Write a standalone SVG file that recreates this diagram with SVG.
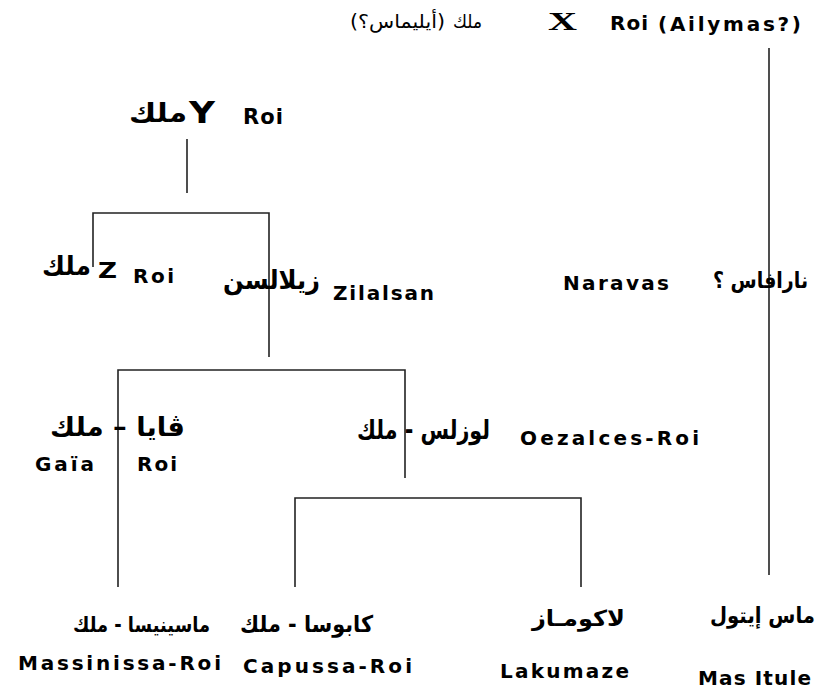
<svg xmlns="http://www.w3.org/2000/svg" width="826" height="693" viewBox="0 0 826 693">
<style>
.lat{font-family:"DejaVu Sans","Liberation Sans",sans-serif;font-weight:bold;font-size:20px;fill:#000}
.ar{font-family:"DejaVu Sans",sans-serif;font-weight:bold;font-size:26px;fill:#000}
.ars{font-family:"DejaVu Sans",sans-serif;font-weight:bold;font-size:22px;fill:#000}
.arn{font-family:"DejaVu Sans",sans-serif;font-weight:normal;font-size:19px;fill:#000}
.ser{font-family:"Liberation Serif","Times New Roman",serif;font-weight:bold;font-size:25px;fill:#000}
.link{stroke:#222;stroke-width:1.6;fill:none}
</style>
<rect width="826" height="693" fill="#fff"/>
<g id="connectors">
<path class="link" d="M187 139V193"/>
<path class="link" d="M93 267V213H269V357"/>
<path class="link" d="M118 587V370H405V478"/>
<path class="link" d="M295 587V498H581V587"/>
<path class="link" d="M769 48V575"/>
</g>
<g id="node-x">
<text class="arn" x="350" y="28" textLength="95" lengthAdjust="spacingAndGlyphs">(أيليماس؟)</text>
<text class="arn" x="453" y="28" textLength="29" lengthAdjust="spacingAndGlyphs">ملك</text>
<text class="ser" x="548" y="30" textLength="29" lengthAdjust="spacingAndGlyphs">X</text>
<text class="lat" x="610" y="30" textLength="38" lengthAdjust="spacing">Roi</text>
<text class="lat" x="801" y="31" text-anchor="end" textLength="143" lengthAdjust="spacing">(Ailymas?)</text>
</g>
<g id="node-y">
<text class="ar" x="129" y="122" textLength="58" lengthAdjust="spacingAndGlyphs">ملك</text>
<text class="lat" x="189" y="123" style="font-size:30px" textLength="26" lengthAdjust="spacingAndGlyphs">Y</text>
<text class="lat" x="243" y="124" style="font-size:21px" textLength="40" lengthAdjust="spacing">Roi</text>
</g>
<g id="node-z">
<text class="ar" x="42" y="275" textLength="49" lengthAdjust="spacingAndGlyphs">ملك</text>
<text class="lat" x="98" y="278" style="font-size:22px" textLength="19" lengthAdjust="spacingAndGlyphs">Z</text>
<text class="lat" x="133" y="283" textLength="41" lengthAdjust="spacing">Roi</text>
</g>
<g id="node-zilalsan">
<text class="ar" x="223" y="289" textLength="97" lengthAdjust="spacingAndGlyphs">زيلالسن</text>
<text class="lat" x="333" y="300" textLength="101" lengthAdjust="spacing">Zilalsan</text>
</g>
<g id="node-naravas">
<text class="lat" x="563" y="290" textLength="106" lengthAdjust="spacing">Naravas</text>
<text class="ars" x="808" y="288" text-anchor="end" textLength="95" lengthAdjust="spacingAndGlyphs">نارافاس ؟</text>
</g>
<g id="node-gaia">
<text class="ar" x="50" y="436" textLength="135" lengthAdjust="spacingAndGlyphs">ڤايا – ملك</text>
<text class="lat" x="35" y="471" textLength="59" lengthAdjust="spacing">Gaïa</text>
<text class="lat" x="137" y="471" textLength="40" lengthAdjust="spacing">Roi</text>
</g>
<g id="node-oezalces">
<text class="ar" x="357" y="439" textLength="133" lengthAdjust="spacingAndGlyphs">لوزلس - ملك</text>
<text class="lat" x="520" y="445" textLength="179" lengthAdjust="spacing">Oezalces-Roi</text>
</g>
<g id="node-massinissa">
<text class="ars" x="73" y="632" style="font-size:21px" textLength="137" lengthAdjust="spacingAndGlyphs">ماسينيسا - ملك</text>
<text class="lat" x="18" y="670" textLength="203" lengthAdjust="spacing">Massinissa-Roi</text>
</g>
<g id="node-capussa">
<text class="ars" x="240" y="632" style="font-size:23px" textLength="133" lengthAdjust="spacingAndGlyphs">كابوسا - ملك</text>
<text class="lat" x="243" y="673" textLength="169" lengthAdjust="spacing">Capussa-Roi</text>
</g>
<g id="node-lakumaze">
<text class="ars" x="532" y="626" textLength="93" lengthAdjust="spacingAndGlyphs">لاكومـاز</text>
<text class="lat" x="500" y="678" textLength="129" lengthAdjust="spacing">Lakumaze</text>
</g>
<g id="node-mas-itule">
<text class="ars" x="815" y="623" text-anchor="end" textLength="105" lengthAdjust="spacingAndGlyphs">ماس إيتول</text>
<text class="lat" x="698" y="685" textLength="113" lengthAdjust="spacing">Mas Itule</text>
</g>
</svg>
